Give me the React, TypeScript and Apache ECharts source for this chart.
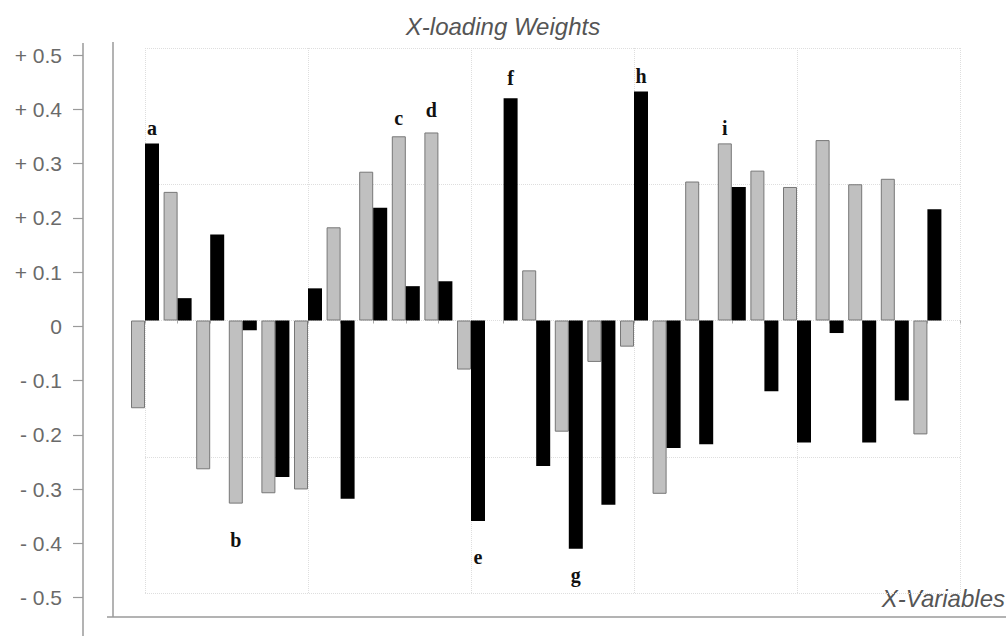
import { useEffect, useRef } from "react";
import * as echarts from "echarts";

// Positions of the 25 X-variables along the horizontal axis
const variablePositions = [
  0, 1, 2, 3, 4, 5, 6, 7, 8, 9, 10, 11, 12, 13, 14, 15, 16, 17, 18, 19, 20, 21, 22, 23, 24,
];

// Loading weights, first component (grey bars)
const weightsGrey = [
  -0.161, 0.236, -0.273, -0.336, -0.317, -0.31, 0.171, 0.273, 0.338, 0.345, -0.09, 0, 0.092,
  -0.204, -0.076, -0.048, -0.318, 0.255, 0.325, 0.275, 0.245, 0.331, 0.25, 0.26, -0.209,
];

// Loading weights, second component (black bars)
const weightsBlack = [
  0.325, 0.041, 0.158, -0.018, -0.287, 0.059, -0.327, 0.207, 0.063, 0.072, -0.368, 0.408, -0.267,
  -0.419, -0.338, 0.42, -0.234, -0.227, 0.245, -0.13, -0.224, -0.023, -0.224, -0.147, 0.204,
];

// Letters marking selected variables
const lettersGrey = [
  "", "", "", "b", "", "", "", "", "c", "d", "", "", "", "", "", "", "", "", "i", "", "", "", "", "", "",
];
const lettersBlack = [
  "a", "", "", "", "", "", "", "", "", "", "e", "f", "", "g", "", "h", "", "", "", "", "", "", "", "", "",
];

const titleText = "X-loading Weights";
const xAxisTitle = "X-Variables";

// gap between a bar end and its letter
const letterGap: Record<string, number> = {
  a: 5, b: 26, c: 8, d: 12, e: 26, f: 10, g: 16, h: 6, i: 5,
};

function formatTick(v: number): string {
  if (Math.abs(v) < 1e-9) return "0";
  return (v > 0 ? "+ " : "- ") + Math.abs(v).toFixed(1);
}

function buildData(values: number[], letters: string[]) {
  return values.map((v, i) => {
    const letter = letters[i];
    const item: any = { value: [variablePositions[i], v] };
    // a zero weight leaves no visible bar, not even its outline
    if (v === 0) item.itemStyle = { borderWidth: 0 };
    if (letter) {
      item.label = {
        show: true,
        formatter: letter,
        position: v >= 0 ? "top" : "bottom",
        distance: letterGap[letter] ?? 6,
        fontFamily: "Liberation Serif",
        fontWeight: "bold",
        fontSize: 20,
        color: "#111",
      };
    }
    return item;
  });
}

export default function App() {
  const ref = useRef<HTMLDivElement>(null);

  useEffect(() => {
    if (!ref.current) return;
    const chart = echarts.init(ref.current, undefined, { renderer: "svg" });
    const frameColor = "#9a9a9a";
    const faintGrid = { show: true, lineStyle: { color: "#dedede", type: "dotted" as const, width: 1 } };

    chart.setOption({
      animation: false,
      backgroundColor: "#ffffff",
      title: {
        text: titleText,
        left: "center",
        top: 9,
        textStyle: {
          fontFamily: "Liberation Sans",
          fontStyle: "italic",
          fontWeight: "normal",
          fontSize: 24,
          color: "#555",
        },
      },
      grid: [
        { left: 145, right: 46, top: 48, bottom: 43 },
        { left: 83, right: 46, top: 55, bottom: 38.5 },
      ],
      xAxis: [
        {
          type: "value",
          gridIndex: 0,
          min: 0,
          max: 25,
          interval: 5,
          offset: 24,
          axisLine: { show: false },
          axisTick: { show: true, length: 3, lineStyle: { color: "#aaa" } },
          minorTick: { show: true, splitNumber: 5, length: 3, lineStyle: { color: "#aaa" } },
          axisLabel: { show: false },
          splitLine: faintGrid,
        },
        { type: "value", gridIndex: 1, show: false, min: 0, max: 1 },
      ],
      yAxis: [
        {
          type: "value",
          gridIndex: 0,
          min: -0.5,
          max: 0.5,
          interval: 0.25,
          axisLine: { show: false },
          axisTick: { show: false },
          axisLabel: { show: false },
          splitLine: faintGrid,
        },
        {
          type: "value",
          gridIndex: 1,
          min: -0.5,
          max: 0.5,
          interval: 0.1,
          axisLine: { show: false },
          axisTick: { show: true, length: 10, lineStyle: { color: frameColor, width: 1.2 } },
          axisLabel: {
            formatter: formatTick,
            margin: 21,
            fontFamily: "Liberation Sans",
            fontSize: 21,
            color: "#6a6a6a",
          },
          splitLine: { show: false },
        },
      ],
      graphic: [
        { type: "line", shape: { x1: 83, y1: 43, x2: 83, y2: 636 }, style: { stroke: frameColor, lineWidth: 1.5 } },
        { type: "line", shape: { x1: 113, y1: 42, x2: 113, y2: 617 }, style: { stroke: frameColor, lineWidth: 1.5 } },
        { type: "line", shape: { x1: 107, y1: 617, x2: 1006, y2: 617 }, style: { stroke: frameColor, lineWidth: 1.5 } },
        {
          type: "text",
          right: 1,
          top: 586,
          style: {
            text: xAxisTitle,
            font: "italic 24px 'Liberation Sans'",
            fill: "#555",
          },
        },
      ],
      series: [
        {
          name: "Component 1",
          type: "bar",
          xAxisIndex: 0,
          yAxisIndex: 0,
          barWidth: 14,
          barGap: "0%",
          clip: false,
          itemStyle: { color: "#c0c0c0", borderColor: "#777", borderWidth: 1 },
          data: buildData(weightsGrey, lettersGrey),
          markLine: {
            silent: true,
            symbol: "none",
            label: { show: false },
            lineStyle: { color: "#a0a0a0", type: "solid", width: 1.5 },
            data: [[{ coord: [-0.5, 0] }, { coord: [25, 0] }]],
          },
        },
        {
          name: "Component 2",
          type: "bar",
          xAxisIndex: 0,
          yAxisIndex: 0,
          barWidth: 14,
          barGap: "0%",
          clip: false,
          itemStyle: { color: "#000" },
          data: buildData(weightsBlack, lettersBlack),
        },
      ],
    });

    return () => chart.dispose();
  }, []);

  return (
    <div
      ref={ref}
      style={{ position: "fixed", left: 0, top: 0, width: 1006, height: 636, background: "#fff" }}
    />
  );
}
